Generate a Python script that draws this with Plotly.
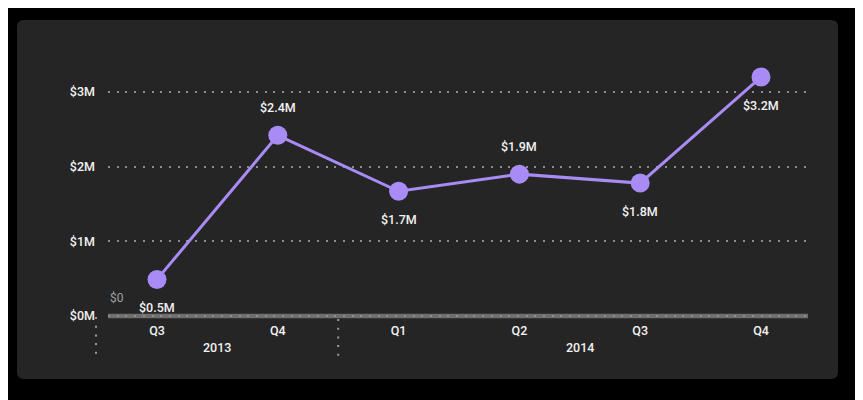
import plotly.graph_objects as go

quarters = ["Q3", "Q4", "Q1", "Q2", "Q3", "Q4"]
years = ["2013", "2014"]
year_counts = [2, 4]
values = [0.49, 2.42, 1.67, 1.90, 1.78, 3.20]  # $M
labels = ["$0.5M", "$2.4M", "$1.7M", "$1.9M", "$1.8M", "$3.2M"]
label_side = [-1, 1, -1, 1, -1, -1]
y_ticks = [0, 1, 2, 3]
y_ticktext = ["$0M", "$1M", "$2M", "$3M"]

W, H = 863, 400
OFF = 8  # page offset
L, R, T, B = 108 - OFF, 808 - OFF, 60 - OFF, 320 - OFF

def px(X):
    return (X - OFF - L) / (R - L)

def py(Y):
    return (B - (Y - OFF)) / (B - T)

xs = list(range(len(quarters)))
purple = "#a98bf5"
font = "Roboto"
txt = "#f2f2f2"
wt = 500

fig = go.Figure()
fig.add_trace(go.Scatter(
    x=xs, y=values, mode="lines+markers",
    line=dict(color=purple, width=3),
    marker=dict(color=purple, size=19),
    hoverinfo="skip", showlegend=False,
))

annotations = []
for x, v, t, s in zip(xs, values, labels, label_side):
    annotations.append(dict(x=x, y=v, text=t, showarrow=False, yshift=28 * s,
                            font=dict(family=font, size=12.5, color=txt, weight=wt)))
start = 0
for yr, c in zip(years, year_counts):
    mid = start + (c - 1) / 2
    annotations.append(dict(x=mid, xref="x", y=py(347), yref="paper", yanchor="middle",
                            text=yr, showarrow=False,
                            font=dict(family=font, size=12.5, color=txt, weight=wt)))
    start += c
annotations.append(dict(x=0, xref="paper", xanchor="left", y=0.24, yref="y", text="$0",
                        showarrow=False, font=dict(family=font, size=12, color="#a0a0a0")))

x0, x1, y0, y1, r = 17, 838, 20, 379, 7
def P(X, Y):
    return f"{px(X):.5f},{py(Y):.5f}"
path = (f"M {P(x0 + r, y0)} L {P(x1 - r, y0)} Q {P(x1, y0)} {P(x1, y0 + r)} "
        f"L {P(x1, y1 - r)} Q {P(x1, y1)} {P(x1 - r, y1)} L {P(x0 + r, y1)} "
        f"Q {P(x0, y1)} {P(x0, y1 - r)} L {P(x0, y0 + r)} Q {P(x0, y0)} {P(x0 + r, y0)} Z")
shapes = [dict(type="path", path=path, xref="paper", yref="paper", fillcolor="#252525",
               line=dict(width=0), layer="below")]
shapes.append(dict(type="line", xref="paper", yref="y", x0=0, x1=1, y0=0, y1=0,
                   line=dict(color="#6e6e6e", width=4.5), layer="below"))
sep_dash = "2px,6.7px"
shapes.append(dict(type="line", xref="paper", yref="paper", x0=px(96), x1=px(96),
                   y0=py(317), y1=py(357), line=dict(color="#9a9a9a", width=2, dash=sep_dash)))
shapes.append(dict(type="line", xref="x", yref="paper", x0=year_counts[0] - 0.5, x1=year_counts[0] - 0.5,
                   y0=py(319), y1=py(357), line=dict(color="#9a9a9a", width=2, dash=sep_dash)))

fig.update_layout(
    width=W, height=H,
    paper_bgcolor="#000000", plot_bgcolor="rgba(0,0,0,0)",
    margin=dict(l=L, r=W - R, t=T, b=H - B),
    shapes=shapes, annotations=annotations,
    xaxis=dict(range=[(108 - 157) / 120.8, (808 - 157) / 120.8], tickvals=xs, ticktext=quarters,
               showgrid=False, zeroline=False, showline=False, ticks="",
               tickfont=dict(family=font, size=12.5, color=txt, weight=wt),
               ticklabelstandoff=1),
    yaxis=dict(range=[(316 - 320) / 74.67, (316 - 60) / 74.67], tickvals=y_ticks, ticktext=y_ticktext,
               showgrid=True, gridcolor="#8c8c8c", gridwidth=2, griddash="2px,6.7px",
               zeroline=False, showline=False, ticks="",
               tickfont=dict(family=font, size=12.5, color=txt, weight=wt),
               ticklabelstandoff=12),
)

fig.write_html("out.html")
